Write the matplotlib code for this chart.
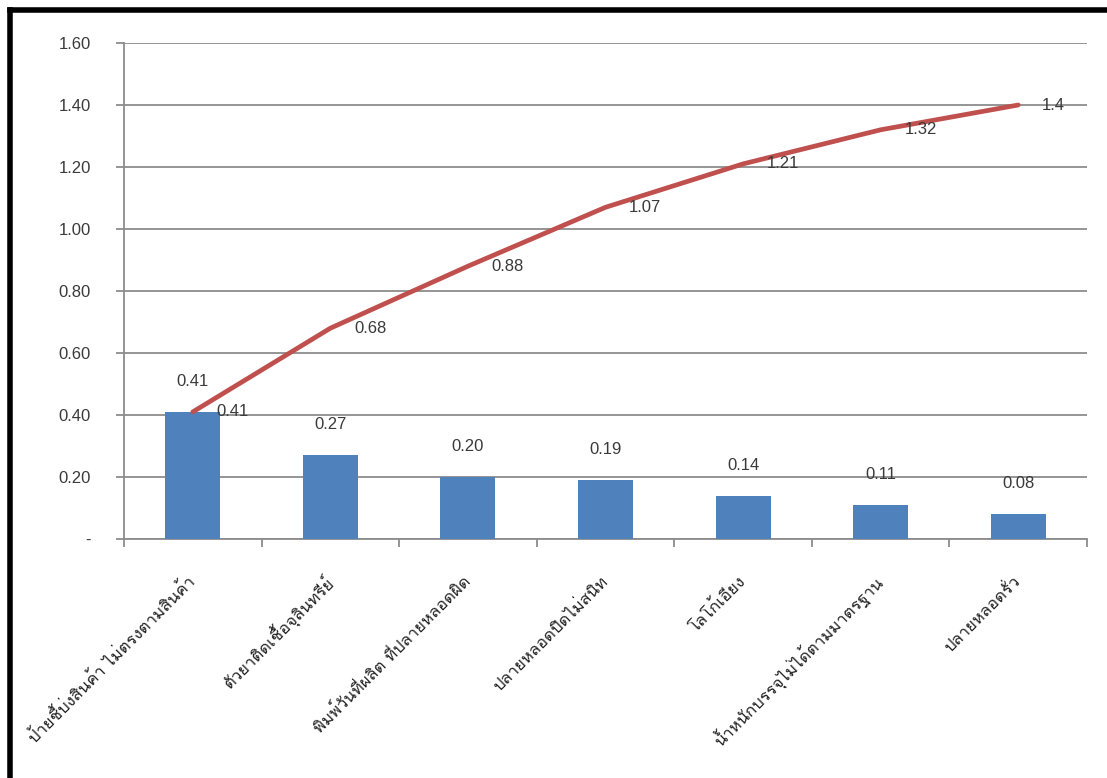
import matplotlib
matplotlib.use("Agg")
import matplotlib.pyplot as plt
from matplotlib import font_manager
from matplotlib.lines import Line2D
import numpy as np

categories = [
    "ป้ายชี้บ่งสินค้า ไม่ตรงตามสินค้า",
    "ตัวยาติดเชื้อจุลินทรีย์",
    "พิมพ์วันที่ผลิต ที่ปลายหลอดผิด",
    "ปลายหลอดปิดไม่สนิท",
    "โลโก้เอียง",
    "น้ำหนักบรรจุไม่ได้ตามมาตรฐาน",
    "ปลายหลอดรั่ว",
]
bar_values = [0.41, 0.27, 0.20, 0.19, 0.14, 0.11, 0.08]
cumulative = [0.41, 0.68, 0.88, 1.07, 1.21, 1.32, 1.4]
bar_labels = ["0.41", "0.27", "0.20", "0.19", "0.14", "0.11", "0.08"]
line_labels = ["0.41", "0.68", "0.88", "1.07", "1.21", "1.32", "1.4"]
yticks = [0, 0.2, 0.4, 0.6, 0.8, 1.0, 1.2, 1.4, 1.6]
ytick_labels = ["-", "0.20", "0.40", "0.60", "0.80", "1.00", "1.20", "1.40", "1.60"]

# find a font with Thai glyphs
thai_font = None
try:
    from fontTools.ttLib import TTFont
    for fe in font_manager.fontManager.ttflist:
        try:
            f = TTFont(fe.fname, fontNumber=0, lazy=True)
            cmap = f.getBestCmap()
            if cmap and 0x0E01 in cmap and 0x0E49 in cmap:
                thai_font = fe.name
                break
        except Exception:
            pass
except Exception:
    pass
thai_family = [thai_font, "DejaVu Sans"] if thai_font else ["DejaVu Sans"]

plt.rcParams["font.family"] = ["Liberation Sans", "DejaVu Sans"]
txt_color = "#3A3A3A"

fig = plt.figure(figsize=(11.07, 7.78), dpi=100)
ax = fig.add_axes([124/1107, 1 - 539/778, (1087-124)/1107, (539-43)/778])

x = np.arange(len(categories))
ax.bar(x, bar_values, width=0.4, color="#4F81BD", zorder=3)
ax.plot(x, cumulative, color="#C0504D", lw=3.4, zorder=4, solid_capstyle="round")

for xi, v, lab in zip(x, bar_values, bar_labels):
    ax.annotate(lab, (xi, v), xytext=(0, 22), textcoords="offset points",
                ha="center", va="center", fontsize=12, color=txt_color, zorder=5)
for xi, v, lab in zip(x, cumulative, line_labels):
    ax.annotate(lab, (xi, v), xytext=(17, 0), textcoords="offset points",
                ha="left", va="center", fontsize=12, color=txt_color, zorder=5)

ax.set_xlim(-0.5, len(categories) - 0.5)
ax.set_ylim(0, 1.6)
ax.set_yticks(yticks)
ax.set_yticklabels(ytick_labels, fontsize=12, color=txt_color)
ax.yaxis.grid(True, color="#8C8C8C", lw=1.3, zorder=1)
ax.set_axisbelow(True)

ax.set_xticks(np.arange(len(categories) + 1) - 0.5)
ax.set_xticklabels([])
ax.set_xticks(x, minor=True)
ax.set_xticklabels(categories, minor=True, rotation=45, ha="right",
                   rotation_mode="anchor", va="center", fontsize=12,
                   family=thai_family, color="#222222")
ax.tick_params(axis="x", which="minor", length=0, pad=29)
ax.tick_params(axis="x", which="major", length=6, width=1.3, color="#8C8C8C", direction="out")
ax.tick_params(axis="y", length=6, width=1.3, color="#8C8C8C", direction="out", pad=18)

for s in ["top", "right"]:
    ax.spines[s].set_visible(False)
for s in ["left", "bottom"]:
    ax.spines[s].set_color("#8C8C8C")
    ax.spines[s].set_linewidth(1.3)

# frame border (top and left)
fig.add_artist(Line2D([10/1107, 10/1107], [0, 1 - 10/778], transform=fig.transFigure,
                      color="black", lw=4, solid_capstyle="projecting"))
fig.add_artist(Line2D([10/1107, 1.0], [1 - 10/778, 1 - 10/778], transform=fig.transFigure,
                      color="black", lw=4, solid_capstyle="projecting"))

fig.savefig("out.png", dpi=100)
